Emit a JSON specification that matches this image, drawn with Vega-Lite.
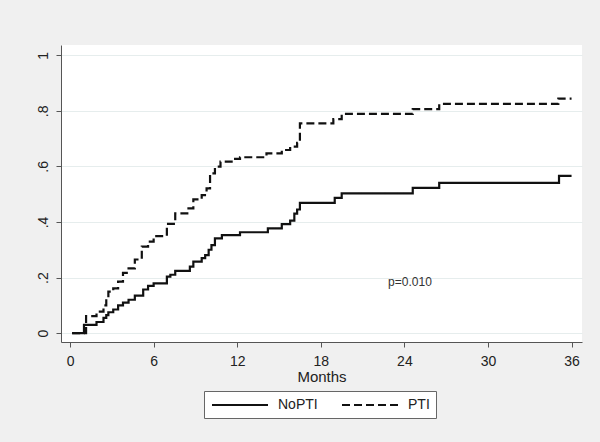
{
  "$schema": "https://vega.github.io/schema/vega-lite/v6.json",
  "autosize": "none",
  "width": 521,
  "height": 297,
  "padding": {"left": 61, "top": 45, "right": 18, "bottom": 100},
  "background": "#f0f0f0",
  "config": {
    "view": {"fill": "white", "stroke": null},
    "font": "Liberation Sans",
    "axis": {
      "domainColor": "#555555",
      "tickColor": "#555555",
      "labelColor": "#222222",
      "titleColor": "#222222",
      "labelFont": "Liberation Sans",
      "titleFont": "Liberation Sans",
      "labelFontSize": 14,
      "titleFontSize": 15,
      "titleFontWeight": "normal",
      "tickSize": 5
    }
  },
  "datasets": {
    "curves": [
      {"group": "NoPTI", "month": 0.15, "value": 0},
      {"group": "NoPTI", "month": 1.0, "value": 0.03},
      {"group": "NoPTI", "month": 1.9, "value": 0.04},
      {"group": "NoPTI", "month": 2.4, "value": 0.055},
      {"group": "NoPTI", "month": 2.6, "value": 0.065},
      {"group": "NoPTI", "month": 2.75, "value": 0.075},
      {"group": "NoPTI", "month": 3.1, "value": 0.085},
      {"group": "NoPTI", "month": 3.45, "value": 0.1},
      {"group": "NoPTI", "month": 3.8, "value": 0.11},
      {"group": "NoPTI", "month": 4.2, "value": 0.12},
      {"group": "NoPTI", "month": 4.65, "value": 0.135},
      {"group": "NoPTI", "month": 5.25, "value": 0.157},
      {"group": "NoPTI", "month": 5.6, "value": 0.17},
      {"group": "NoPTI", "month": 6.0, "value": 0.179},
      {"group": "NoPTI", "month": 6.95, "value": 0.203},
      {"group": "NoPTI", "month": 7.2, "value": 0.21},
      {"group": "NoPTI", "month": 7.55, "value": 0.224},
      {"group": "NoPTI", "month": 8.6, "value": 0.239},
      {"group": "NoPTI", "month": 8.85, "value": 0.257},
      {"group": "NoPTI", "month": 9.45, "value": 0.27},
      {"group": "NoPTI", "month": 9.7, "value": 0.281},
      {"group": "NoPTI", "month": 9.95, "value": 0.3},
      {"group": "NoPTI", "month": 10.15, "value": 0.317},
      {"group": "NoPTI", "month": 10.4, "value": 0.341},
      {"group": "NoPTI", "month": 10.9, "value": 0.353},
      {"group": "NoPTI", "month": 12.2, "value": 0.363},
      {"group": "NoPTI", "month": 14.2, "value": 0.377},
      {"group": "NoPTI", "month": 15.2, "value": 0.392},
      {"group": "NoPTI", "month": 15.8, "value": 0.405},
      {"group": "NoPTI", "month": 16.1, "value": 0.43},
      {"group": "NoPTI", "month": 16.3, "value": 0.445},
      {"group": "NoPTI", "month": 16.5, "value": 0.469},
      {"group": "NoPTI", "month": 19.0, "value": 0.487},
      {"group": "NoPTI", "month": 19.5, "value": 0.503},
      {"group": "NoPTI", "month": 24.6, "value": 0.523},
      {"group": "NoPTI", "month": 26.5, "value": 0.541},
      {"group": "NoPTI", "month": 35.1, "value": 0.566},
      {"group": "NoPTI", "month": 36.0, "value": 0.566},
      {"group": "PTI", "month": 0.15, "value": 0},
      {"group": "PTI", "month": 1.15, "value": 0.061},
      {"group": "PTI", "month": 1.9, "value": 0.077},
      {"group": "PTI", "month": 2.4, "value": 0.1},
      {"group": "PTI", "month": 2.6, "value": 0.125},
      {"group": "PTI", "month": 2.75, "value": 0.149},
      {"group": "PTI", "month": 3.1, "value": 0.161},
      {"group": "PTI", "month": 3.45, "value": 0.185},
      {"group": "PTI", "month": 3.8, "value": 0.217},
      {"group": "PTI", "month": 4.2, "value": 0.233},
      {"group": "PTI", "month": 4.65, "value": 0.265},
      {"group": "PTI", "month": 5.15, "value": 0.311},
      {"group": "PTI", "month": 5.6, "value": 0.329},
      {"group": "PTI", "month": 6.0, "value": 0.349},
      {"group": "PTI", "month": 6.95, "value": 0.393},
      {"group": "PTI", "month": 7.55, "value": 0.431},
      {"group": "PTI", "month": 8.5, "value": 0.449},
      {"group": "PTI", "month": 8.85, "value": 0.481},
      {"group": "PTI", "month": 9.45, "value": 0.497},
      {"group": "PTI", "month": 9.8, "value": 0.521},
      {"group": "PTI", "month": 10.05, "value": 0.575},
      {"group": "PTI", "month": 10.4, "value": 0.599},
      {"group": "PTI", "month": 10.8, "value": 0.617},
      {"group": "PTI", "month": 11.85, "value": 0.627},
      {"group": "PTI", "month": 12.2, "value": 0.633},
      {"group": "PTI", "month": 14.1, "value": 0.647},
      {"group": "PTI", "month": 15.2, "value": 0.659},
      {"group": "PTI", "month": 15.8, "value": 0.671},
      {"group": "PTI", "month": 16.3, "value": 0.685},
      {"group": "PTI", "month": 16.5, "value": 0.755},
      {"group": "PTI", "month": 18.9, "value": 0.77},
      {"group": "PTI", "month": 19.5, "value": 0.789},
      {"group": "PTI", "month": 24.6, "value": 0.806},
      {"group": "PTI", "month": 26.5, "value": 0.825},
      {"group": "PTI", "month": 35.05, "value": 0.844},
      {"group": "PTI", "month": 36.0, "value": 0.844}
    ],
    "note": [
      {"month": 24.4, "value": 0.184, "label": "p=0.010"}
    ]
  },
  "layer": [
    {
      "data": {"name": "curves"},
      "mark": {"type": "line", "interpolate": "step-after", "strokeWidth": 2.2, "color": "#111111"},
      "encoding": {
        "x": {
          "field": "month",
          "type": "quantitative",
          "title": "Months",
          "scale": {"domain": [-0.65, 36.75], "nice": false, "zero": false},
          "axis": {"values": [0, 6, 12, 18, 24, 30, 36], "grid": false, "labelPadding": 7, "titlePadding": 1}
        },
        "y": {
          "field": "value",
          "type": "quantitative",
          "title": null,
          "scale": {"domain": [-0.032, 1.037], "nice": false, "zero": false},
          "axis": {
            "values": [0, 0.2, 0.4, 0.6, 0.8, 1],
            "labelExpr": "datum.value == 0 ? '0' : datum.value == 1 ? '1' : replace(format(datum.value, '.1f'), '0.', '.')",
            "labelAngle": -90,
            "labelAlign": "center",
            "labelBaseline": "bottom",
            "labelPadding": 6,
            "grid": true,
            "gridColor": "#e6eded",
            "gridWidth": 1
          }
        },
        "strokeDash": {
          "field": "group",
          "type": "nominal",
          "scale": {"domain": ["NoPTI", "PTI"], "range": [[1, 0], [8, 4]]},
          "legend": {
            "title": null,
            "orient": "none",
            "legendX": 143,
            "legendY": 346,
            "direction": "horizontal",
            "fillColor": "white",
            "strokeColor": "#666666",
            "padding": 6,
            "symbolType": "M-4,0H4",
            "symbolSize": 196,
            "symbolStrokeWidth": 2,
            "symbolStrokeColor": "#111111",
            "symbolOffset": 22,
            "labelFont": "Liberation Sans",
            "labelFontSize": 14,
            "labelColor": "#222222",
            "labelOffset": 30,
            "columnPadding": 20
          }
        }
      }
    },
    {
      "data": {"name": "note"},
      "mark": {"type": "text", "fontSize": 12, "color": "#333333", "font": "Liberation Sans"},
      "encoding": {
        "x": {"field": "month", "type": "quantitative"},
        "y": {"field": "value", "type": "quantitative"},
        "text": {"field": "label", "type": "nominal"}
      }
    }
  ]
}
